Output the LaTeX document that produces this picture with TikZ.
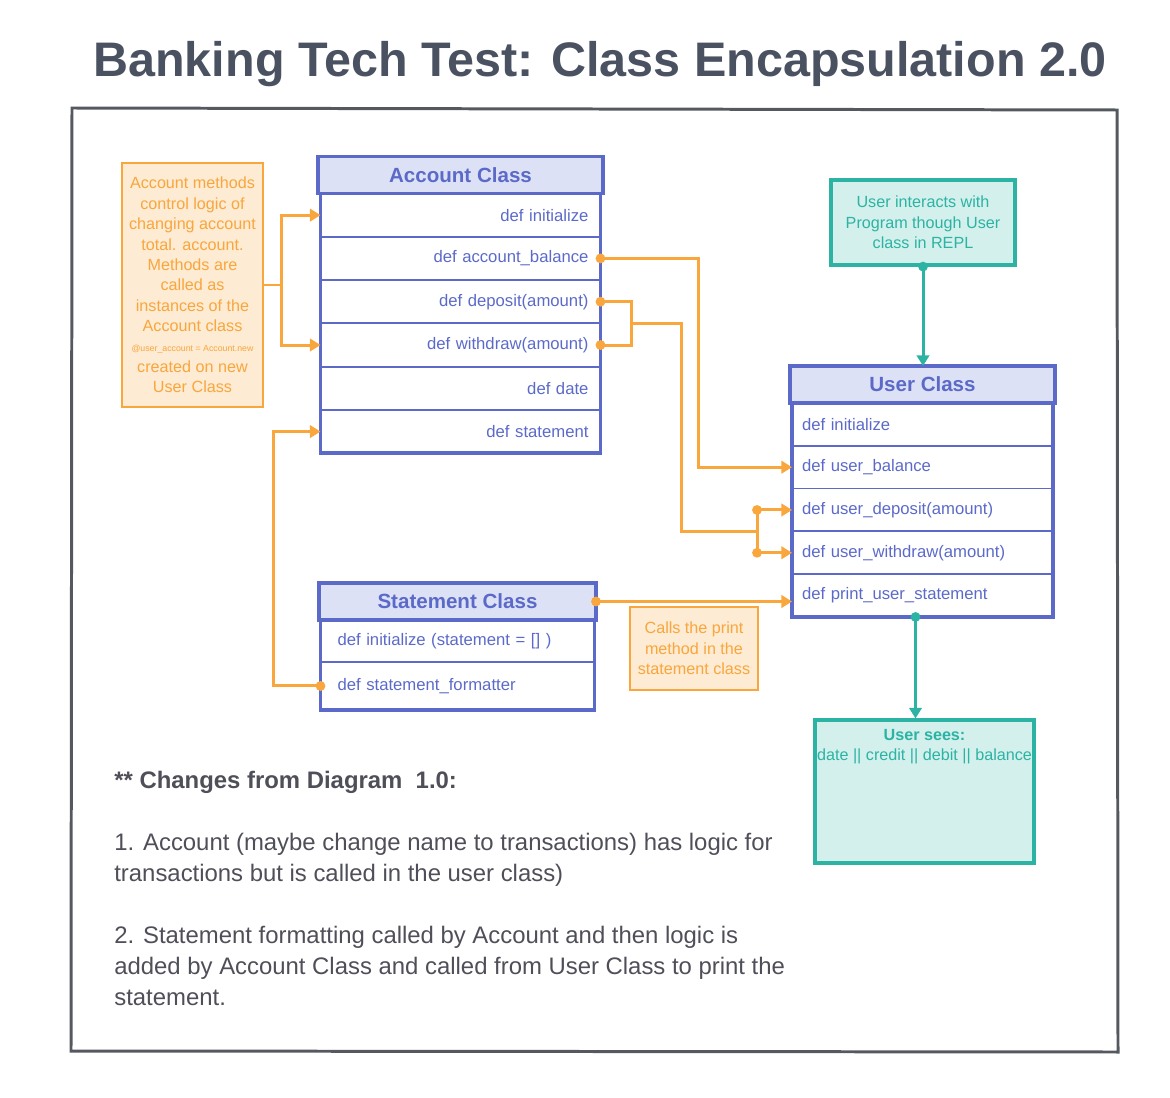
\documentclass[tikz,border=0pt]{standalone}
\usepackage{fontspec}
\setmainfont{Liberation Sans}
\usetikzlibrary{positioning,arrows.meta,fit,calc}
\definecolor{clsblue}{HTML}{5B6AC9}
\definecolor{clsfill}{HTML}{DDE1F5}
\definecolor{noteorange}{HTML}{F9A63C}
\definecolor{notefill}{HTML}{FDEBD3}
\definecolor{tealline}{HTML}{2CB3A4}
\definecolor{tealfill}{HTML}{D3F0EC}
\definecolor{titlegray}{HTML}{4A5262}
\definecolor{framegray}{HTML}{55595F}
\definecolor{textgray}{HTML}{4E4F58}

\begin{document}
\begin{tikzpicture}[x=0.02cm,y=-0.02cm,>={Triangle[length=6pt,width=7pt]},
  hdr/.style={draw=clsblue,fill=clsfill,line width=2.2pt,text=clsblue,outer sep=0pt,
    font=\fontsize{11.7}{14}\selectfont\bfseries,minimum height=0.74cm,inner sep=0pt},
  meth/.style={draw=clsblue,line width=1pt,text=clsblue,outer sep=0pt,
    font=\fontsize{9.5}{11}\selectfont,inner ysep=0pt},
  ameth/.style={meth,minimum height=0.866cm,inner xsep=0.24cm,text width=5.12cm,align=right},
  umeth/.style={meth,minimum height=0.856cm,inner xsep=0.2cm,text width=4.82cm,align=left},
  smeth/.style={meth,inner xsep=0.34cm,text width=4.8cm,align=left},
  body/.style={draw=clsblue,line width=2.2pt,inner sep=0pt},
  onote/.style={draw=noteorange,fill=notefill,line width=1.2pt,text=noteorange,align=center,
    font=\fontsize{9.2}{11.6}\selectfont,inner sep=0pt},
  tnote/.style={draw=tealline,fill=tealfill,line width=1.8pt,text=tealline,align=center,
    font=\fontsize{9.2}{11.6}\selectfont,inner sep=0pt},
  oline/.style={draw=noteorange,line width=1.7pt,color=noteorange},
  tline/.style={draw=tealline,line width=1.7pt,color=tealline}]
\useasboundingbox (0,0) rectangle (1170,1098);
\node[font=\fontsize{27.6}{34}\selectfont\bfseries,text=titlegray] (title) at (600,64) {Banking Tech Test: Class Encapsulation 2.0};
\draw[framegray,line width=1.7pt] (72,108) -- (1117,110) -- (1118,1052) -- (71,1051) -- cycle;

\node[hdr,minimum width=5.7cm] (acc) at (460.5,175) {Account Class};
\node[ameth,below=0pt of acc] (a1) {def initialize};
\node[ameth,below=0pt of a1] (a2) {def account\_balance};
\node[ameth,below=0pt of a2] (a3) {def deposit(amount)};
\node[ameth,below=0pt of a3] (a4) {def withdraw(amount)};
\node[ameth,below=0pt of a4] (a5) {def date};
\node[ameth,below=0pt of a5] (a6) {def statement};
\node[body,fit=(a1)(a6)] (accbody) {};

\node[hdr,minimum width=5.3cm] (usr) at (922.5,384.5) {User Class};
\node[umeth,below=0pt of usr] (u1) {def initialize};
\node[umeth,below=0pt of u1] (u2) {def user\_balance};
\node[umeth,below=0pt of u2] (u3) {def user\_deposit(amount)};
\node[umeth,below=0pt of u3] (u4) {def user\_withdraw(amount)};
\node[umeth,below=0pt of u4] (u5) {def print\_user\_statement};
\node[body,fit=(u1)(u5)] (usrbody) {};

\node[hdr,minimum width=5.54cm] (stm) at (457.5,601.5) {Statement Class};
\node[smeth,minimum height=0.84cm,below=0pt of stm] (s1) {def initialize (statement = [] )};
\node[smeth,minimum height=0.96cm,below=0pt of s1] (s2) {def statement\_formatter};
\node[body,fit=(s1)(s2)] (stmbody) {};

\node[onote,minimum width=2.82cm,minimum height=4.88cm] (accnote) at (192.5,285) {Account methods\\control logic of\\changing account\\total. account.\\Methods are\\called as\\instances of the\\Account class\\{\fontsize{5}{6}\selectfont @user\_account = Account.new}\\created on new\\User Class};
\node[onote,minimum width=2.56cm,minimum height=1.66cm] (callnote) at (694,648.5) {Calls the print\\method in the\\statement class};
\node[tnote,minimum width=3.68cm,minimum height=1.7cm] (replnote) at (923,222.5) {User interacts with\\Program though User\\class in REPL};
\node[tnote,minimum width=4.38cm,minimum height=2.86cm] (sees) at (924.5,791.5) {};
\node[text=tealline,align=center,font=\fontsize{9.2}{11.6}\selectfont,inner sep=0pt,below=6pt of sees.north] (seestxt) {\textbf{User sees:}\\date || credit || debit || balance};

\coordinate (nj) at ($(accnote.east)+(17,0)$);
\draw[oline] (accnote.east) -- (nj);
\draw[oline,->] (nj) |- (a1.west);
\draw[oline,->] (nj) |- (a4.west);

\fill[noteorange] (a2.east) circle[radius=2.8pt];
\draw[oline,->] (a2.east) -- ++(98,0) |- (u2.west);

\coordinate (bk) at ($(a3.east)!.5!(a4.east)+(31,0)$);
\coordinate (uk) at ($(u3.west)!.5!(u4.west)+(-35,0)$);
\fill[noteorange] (a3.east) circle[radius=2.8pt];
\fill[noteorange] (a4.east) circle[radius=2.8pt];
\draw[oline] (a3.east) -| (bk) |- (a4.east);
\draw[oline] (bk) -- ++(50,0) |- (uk);
\fill[noteorange] (uk |- u3.west) circle[radius=2.8pt];
\fill[noteorange] (uk |- u4.west) circle[radius=2.8pt];
\draw[oline,->] (uk) |- (u3.west);
\draw[oline,->] (uk) |- (u4.west);

\fill[noteorange] (stm.east) circle[radius=2.8pt];
\draw[oline,->] (stm.east) -- (u5.west |- stm.east);

\fill[noteorange] (s2.west) circle[radius=2.8pt];
\draw[oline,->] (s2.west) -- ++(-47,0) |- (a6.west);

\fill[tealline] (replnote.south) circle[radius=2.8pt];
\draw[tline,->] (replnote.south) -- (replnote.south |- usr.north);
\fill[tealline] ([xshift=-0.14cm]u5.south) circle[radius=2.8pt];
\draw[tline,->] ([xshift=-0.14cm]u5.south) -- ([xshift=-0.14cm]u5.south |- sees.north);

\node[anchor=north west,align=left,inner sep=0pt,text=textgray,font=\fontsize{13.6}{17.6}\selectfont] (changes) at (114,771) {\textbf{** Changes from Diagram\ \ 1.0:}\\[17.6pt]
1. Account (maybe change name to transactions) has logic for\\
transactions but is called in the user class)\\[17.6pt]
2. Statement formatting called by Account and then logic is\\
added by Account Class and called from User Class to print the\\
statement.};
\end{tikzpicture}
\end{document}
